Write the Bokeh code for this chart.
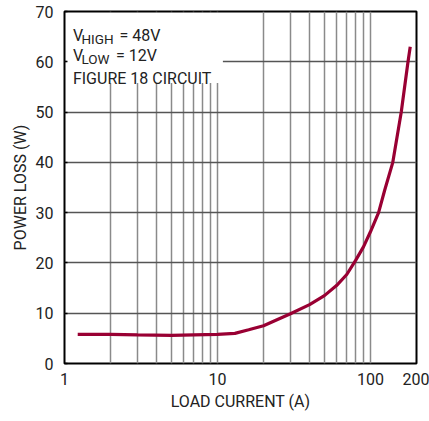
from bokeh.plotting import figure
from bokeh.models import Range1d, FixedTicker, NumeralTickFormatter, BoxAnnotation, Label
from bokeh.embed import file_html
from bokeh.resources import INLINE

# data
load_current = [1.22, 2, 3, 5, 7, 10, 13, 16, 20, 30, 40, 50, 60, 70, 80, 90, 100, 113, 124, 140, 159, 176, 182]
power_loss = [5.8, 5.8, 5.7, 5.6, 5.7, 5.8, 6.0, 6.7, 7.5, 9.9, 11.7, 13.5, 15.5, 17.7, 20.5, 23.2, 26.2, 30.0, 34.5, 40.0, 50.0, 60.0, 63.0]

x_major_ticks = [1, 10, 100, 200]
x_minor_ticks = [2, 3, 4, 5, 6, 7, 8, 9, 20, 30, 40, 50, 60, 70, 80, 90]
y_ticks = [0, 10, 20, 30, 40, 50, 60, 70]

FONT = "Roboto"
TXT = "#222222"

p = figure(width=429, height=421, x_axis_type="log",
           x_range=Range1d(1, 200), y_range=Range1d(0, 70),
           output_backend="svg", toolbar_location=None,
           min_border_left=64, min_border_right=13, min_border_top=11, min_border_bottom=58)

p.outline_line_color = "black"
p.outline_line_width = 2
p.background_fill_color = "white"

p.line(load_current, power_loss, line_color="#990033", line_width=3.2)

# axes
p.xaxis.ticker = FixedTicker(ticks=x_major_ticks, minor_ticks=x_minor_ticks)
p.xaxis.formatter = NumeralTickFormatter(format="0")
p.yaxis.ticker = FixedTicker(ticks=y_ticks)
for ax in (p.xaxis, p.yaxis):
    ax.axis_line_color = None
    ax.major_label_text_font = FONT
    ax.major_label_text_font_size = "16px"
    ax.major_label_text_color = TXT
    ax.axis_label_text_font = FONT
    ax.axis_label_text_font_size = "16px"
    ax.axis_label_text_font_style = "normal"
    ax.axis_label_text_color = TXT
    ax.minor_tick_line_color = None
    ax.minor_tick_in = 0
    ax.minor_tick_out = 0
p.xaxis.major_tick_line_color = None
p.xaxis.major_tick_in = 0
p.xaxis.major_tick_out = 0
p.xaxis.major_label_standoff = 9
p.xaxis.axis_label = "LOAD CURRENT (A)"
p.xaxis.axis_label_standoff = 4
p.yaxis.major_tick_in = 3
p.yaxis.major_tick_out = 0
p.yaxis.major_tick_line_color = "black"
p.yaxis.major_tick_line_width = 1.5
p.yaxis.major_label_standoff = 11
p.yaxis.axis_label = "POWER LOSS (W)"
p.yaxis.axis_label_standoff = 3

# grids
p.xgrid.grid_line_color = "#8a8a8a"
p.xgrid.grid_line_width = 1.5
p.xgrid.minor_grid_line_color = "#8a8a8a"
p.xgrid.minor_grid_line_width = 1.5
p.ygrid.grid_line_color = "#555555"
p.ygrid.grid_line_width = 1.5

# white box behind the annotation text
p.add_layout(BoxAnnotation(left=1.03, right=10.85, bottom=55.8, top=69.7,
                           fill_color="white", fill_alpha=1.0, line_color=None, level="underlay"))

def lab(x, y, t, size):
    p.add_layout(Label(x=x, y=y, text=t, text_font=FONT, text_font_size=size,
                       text_color=TXT, text_baseline="alphabetic", text_align="left"))

lab(1.135, 65.15, "V", "16px")
lab(1.29, 64.6, "HIGH", "13.5px")
lab(2.29, 65.15, "= 48V", "16px")
lab(1.135, 61.2, "V", "16px")
lab(1.29, 60.65, "LOW", "13.5px")
lab(2.17, 61.2, "= 12V", "16px")
lab(1.135, 56.7, "FIGURE 18 CIRCUIT", "16px")

open("out.html", "w").write(file_html(p, INLINE))
